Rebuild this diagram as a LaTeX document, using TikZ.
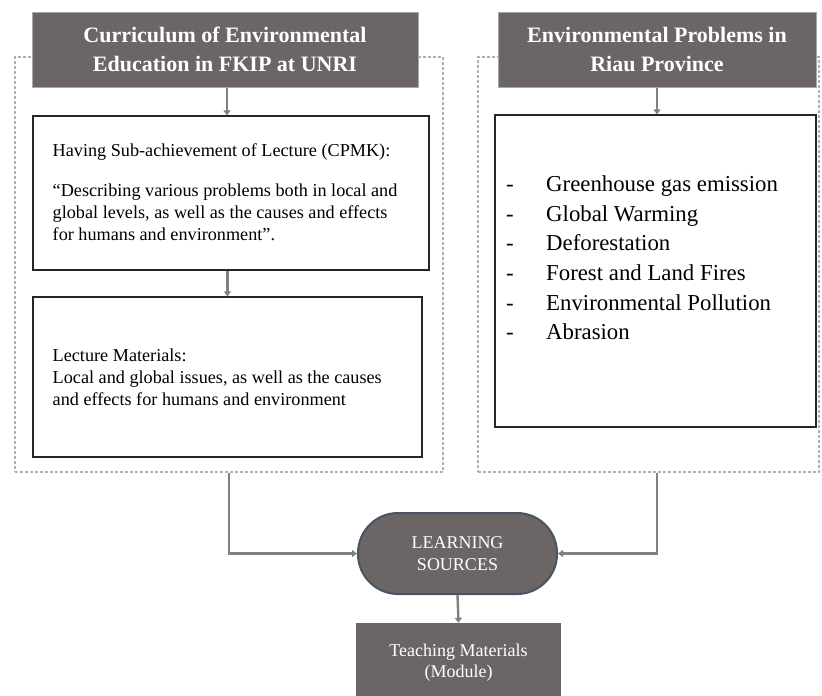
\documentclass[tikz,border=0pt]{standalone}
\usepackage{fontspec}
\setmainfont{Liberation Serif}
\usetikzlibrary{arrows.meta,positioning,calc}
\definecolor{titlegray}{HTML}{6B6565}
\definecolor{titleedge}{HTML}{A8A8A8}
\definecolor{arrowgray}{HTML}{808080}
\definecolor{framegray}{HTML}{B0B0B0}
\definecolor{stadedge}{HTML}{4B5263}
\tikzset{
  frame/.style={draw=framegray, line width=1.3pt, dash pattern=on 3pt off 2pt, inner sep=0pt},
  titlebox/.style={fill=titlegray, draw=titleedge, line width=1pt, text=white, align=center, inner sep=0pt,
    font=\bfseries\fontsize{22}{28.4}\selectfont},
  contentbox/.style={draw=black!85, fill=white, line width=1.2pt, inner sep=0pt},
  bodytext/.style={anchor=base west, inner sep=0pt, font=\fontsize{18.2}{21}\selectfont},
  listtext/.style={anchor=base west, inner sep=0pt, font=\fontsize{22.8}{29.6}\selectfont},
  stadium/.style={fill=titlegray, draw=stadedge, line width=2pt, rounded corners=40pt, text=white, align=center,
    font=\fontsize{18}{22}\selectfont, inner sep=0pt},
  darkbox/.style={fill=titlegray, draw=none, text=white, align=center, font=\fontsize{18}{21}\selectfont, inner sep=0pt},
  flow/.style={draw=arrowgray, line width=2.4pt, -{Triangle[width=7pt,length=5pt]}},
}
\begin{document}
\begin{tikzpicture}[x=1pt,y=-1pt]
\useasboundingbox (0,0) rectangle (822,696);
% dashed frames
\node[frame, minimum width=428pt, minimum height=415pt] (lframe) at (229,264.5) {};
\node[frame, minimum width=341pt, minimum height=415pt] (rframe) at (648.5,264.5) {};
% titles
\node[titlebox, minimum width=386pt, minimum height=75pt] (ltitle) at (225,49.5)
  {Curriculum of Environmental\\Education in FKIP at UNRI};
\node[titlebox, minimum width=318pt, minimum height=75pt] (rtitle) at (657,49.5)
  {Environmental Problems in\\Riau Province};
% content boxes
\node[contentbox, minimum width=396pt, minimum height=154pt] (box1) at (231,193) {};
\node[contentbox, minimum width=389pt, minimum height=160pt] (box2) at (227.5,377) {};
\node[contentbox, minimum width=321pt, minimum height=312pt] (box3) at (655.5,271) {};
% box1 text
\node[bodytext] (t11) at (52.5,156.7) {Having Sub-achievement of Lecture (CPMK):};
\node[bodytext] (t12) at (52.5,196.7) {“Describing various problems both in local and};
\node[bodytext] (t13) at (52.5,218.5) {global levels, as well as the causes and effects};
\node[bodytext] (t14) at (52.5,240.5) {for humans and environment”.};
% box2 text
\node[bodytext] (t21) at (52.5,361.7) {Lecture Materials:};
\node[bodytext] (t22) at (52.5,383.3) {Local and global issues, as well as the causes};
\node[bodytext] (t23) at (52.5,405) {and effects for humans and environment};
% list
\foreach \y/\txt [count=\i] in {191.7/Greenhouse gas emission, 221.3/Global Warming, 250.9/Deforestation,
  280.5/Forest and Land Fires, 310.1/Environmental Pollution, 339.7/Abrasion}{
  \node[listtext] (d\i) at (506,\y) {-};
  \node[listtext] (l\i) at (546,\y) {\txt};
}
% learning sources
\node[stadium, minimum width=199pt, minimum height=81pt] (ls) at (457.5,553.5) {LEARNING\\SOURCES};
\node[darkbox, minimum width=205pt, minimum height=79pt] (tm) at (458.5,662.5) {Teaching Materials\\(Module)};
% arrows
\draw[flow] ([xshift=2pt]ltitle.south) -- ([xshift=2pt]ltitle.south |- box1.north);
\draw[flow] (box1.south -| box2.north) -- (box2.north);
\draw[flow] (rtitle.south) -- (rtitle.south |- box3.north);
\draw[flow] (lframe.south) |- (ls.west);
\draw[flow] (rframe.south -| rtitle.south) |- (ls.east);
\draw[flow] (ls.south) -- (tm.north);
\end{tikzpicture}
\end{document}
